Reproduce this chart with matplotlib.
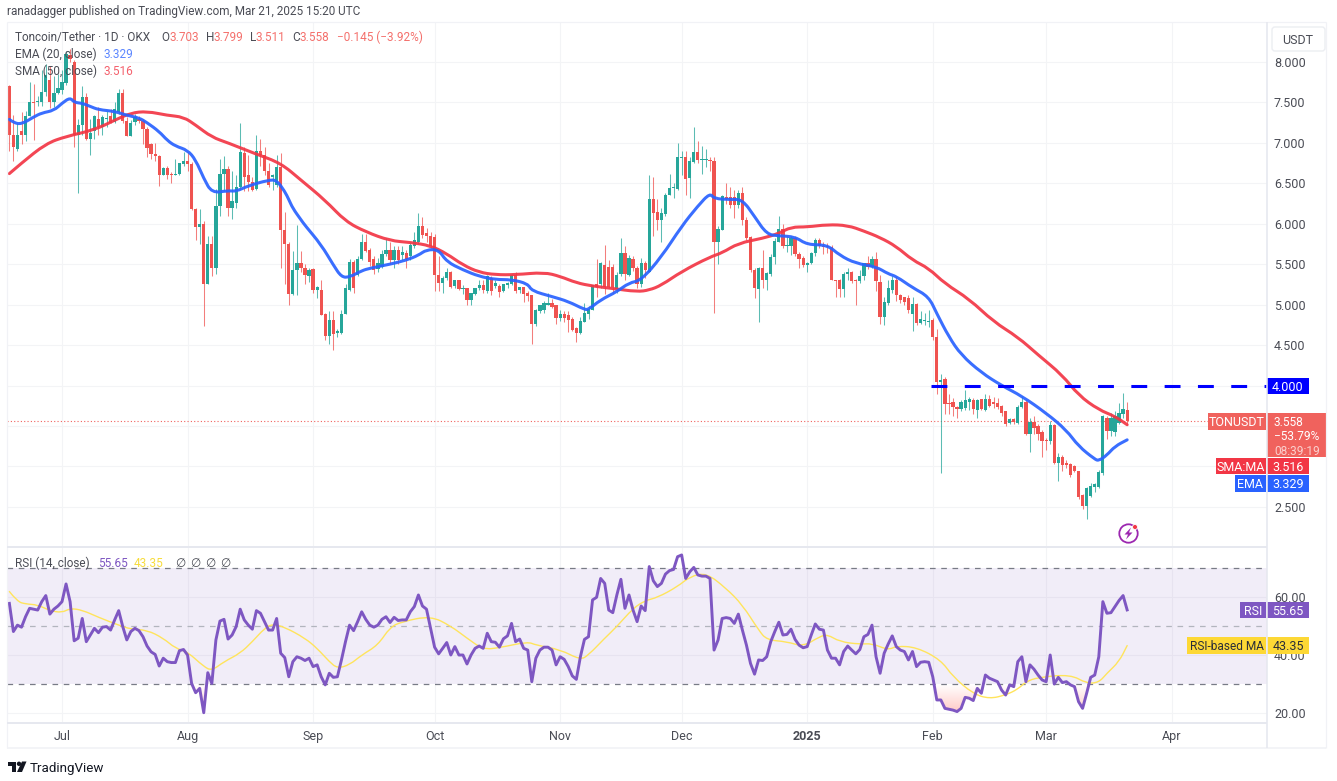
import numpy as np
import matplotlib
matplotlib.use("Agg")
import matplotlib.pyplot as plt
from matplotlib.patches import Rectangle, FancyBboxPatch, Circle, Polygon, PathPatch
from matplotlib.path import Path

W, H = 1337, 781

# daily candles, oldest first
opens = [7.70,7.10,6.93,7.15,7.10,7.33,7.51,7.50,7.50,7.63,7.78,7.50,7.62,7.65,7.74,8.08,8.00,7.10,7.22,7.57,
 7.05,7.15,7.30,7.20,7.30,7.33,7.26,7.38,7.62,7.27,7.08,7.26,7.30,7.27,7.17,6.98,6.86,6.84,6.60,6.69,
 6.62,6.60,6.62,6.74,6.77,6.74,6.18,5.96,6.00,5.26,5.75,5.45,6.22,6.62,6.68,6.20,6.26,6.45,6.88,6.60,
 6.52,6.43,6.90,6.85,6.65,6.58,6.48,6.70,5.92,5.75,5.13,5.43,5.52,5.45,5.35,5.44,5.18,5.18,4.88,4.61,
 4.81,4.65,4.65,4.89,5.18,5.53,5.37,5.57,5.78,5.67,5.56,5.44,5.47,5.63,5.68,5.55,5.67,5.62,5.64,5.60,
 5.72,5.78,5.97,5.89,5.85,5.84,5.37,5.27,5.33,5.41,5.23,5.30,5.19,5.20,5.06,5.13,5.20,5.24,5.17,5.33,
 5.23,5.23,5.17,5.24,5.25,5.37,5.18,5.22,5.14,5.12,4.76,4.92,4.94,5.00,5.02,4.99,4.84,4.89,4.87,4.82,
 4.71,4.65,4.79,4.89,4.93,5.26,5.26,5.49,5.47,5.47,5.19,5.38,5.64,5.37,5.57,5.45,5.26,5.51,5.41,6.31,
 6.15,6.05,6.12,6.36,6.44,6.43,6.81,6.83,6.56,6.76,6.89,6.79,6.79,6.79,6.78,5.77,5.92,6.33,6.33,6.33,
 6.23,6.38,6.05,5.84,5.43,5.19,5.45,5.31,5.38,5.59,5.78,5.94,5.73,5.72,5.83,5.63,5.58,5.49,5.51,5.64,
 5.80,5.73,5.73,5.71,5.30,5.30,5.19,5.38,5.40,5.31,5.29,5.36,5.51,5.47,5.57,5.28,4.85,5.02,5.18,5.30,
 5.12,5.09,5.08,4.89,5.01,4.77,4.80,4.79,4.81,4.60,4.04,4.08,3.78,3.80,3.74,3.71,3.72,3.80,3.82,3.70,
 3.83,3.70,3.84,3.80,3.78,3.75,3.68,3.54,3.59,3.54,3.74,3.80,3.40,3.55,3.50,3.43,3.33,3.31,3.51,3.04,
 3.12,3.04,3.03,3.00,2.95,2.65,2.51,2.63,2.75,2.75,2.92,3.60,3.44,3.43,3.54,3.65,3.703]
highs = [7.72,7.35,7.25,7.38,7.40,7.75,7.73,7.58,7.90,7.98,7.95,7.83,7.85,7.90,8.14,8.16,8.02,7.30,7.70,7.62,
 7.30,7.35,7.44,7.35,7.40,7.42,7.50,7.66,7.66,7.32,7.28,7.36,7.33,7.30,7.20,7.00,7.00,6.85,6.70,6.72,
 6.64,6.80,6.75,6.89,6.89,6.76,6.20,6.18,6.03,5.85,5.85,6.43,6.80,6.84,6.72,6.65,6.60,7.25,6.95,6.85,
 6.58,7.10,7.05,6.95,6.75,6.62,6.85,6.87,6.15,5.78,5.66,5.98,5.66,5.50,5.45,5.45,5.23,5.30,4.90,4.92,
 4.92,4.70,4.94,5.25,5.57,5.55,5.60,5.87,5.87,5.70,5.60,5.58,5.67,5.82,5.78,5.72,5.72,5.72,5.67,5.78,
 5.90,6.13,6.08,5.95,5.90,5.87,5.60,5.35,5.45,5.42,5.31,5.30,5.24,5.20,5.14,5.21,5.31,5.30,5.37,5.35,
 5.30,5.25,5.26,5.28,5.38,5.40,5.22,5.22,5.17,5.12,4.95,5.00,5.05,5.14,5.07,5.00,4.93,4.92,4.92,4.85,
 4.72,4.85,5.02,4.98,5.24,5.57,5.53,5.74,5.55,5.50,5.40,5.83,5.72,5.62,5.60,5.48,5.58,5.54,6.60,6.58,
 6.30,6.20,6.38,6.62,6.50,7.00,6.90,6.90,6.83,7.20,7.02,6.96,6.93,6.83,6.82,5.97,6.35,6.50,6.45,6.42,
 6.42,6.46,6.08,5.85,5.45,5.46,5.67,5.40,5.63,5.82,6.09,6.00,5.85,5.85,5.85,5.65,5.60,5.53,5.65,5.83,
 5.83,5.78,5.76,5.74,5.30,5.32,5.40,5.45,5.42,5.32,5.43,5.52,5.60,5.60,5.65,5.37,5.10,5.30,5.35,5.35,
 5.13,5.10,5.12,5.10,5.02,4.92,4.90,4.94,4.83,4.70,4.14,4.10,3.90,3.85,3.75,3.82,3.95,3.86,3.85,3.84,
 3.84,3.90,3.88,3.86,3.85,3.76,3.69,3.60,3.60,3.76,3.87,3.82,3.60,3.62,3.52,3.45,3.35,3.56,3.52,3.17,
 3.14,3.08,3.04,3.02,2.95,2.66,2.75,2.80,2.80,2.96,3.64,3.63,3.66,3.68,3.79,3.91,3.799]
lows = [6.90,6.78,6.90,6.98,7.02,7.33,7.03,7.45,7.45,7.58,7.43,7.44,7.60,7.60,7.72,8.00,6.95,6.38,7.10,7.04,
 6.85,7.05,7.10,7.10,7.20,7.24,7.25,7.36,7.25,7.08,7.08,7.22,7.24,6.98,6.82,6.80,6.78,6.47,6.60,6.55,
 6.50,6.60,6.60,6.72,6.65,6.17,5.80,5.75,4.74,5.26,5.35,5.38,6.10,6.40,6.10,6.06,6.20,6.43,6.40,6.40,
 6.40,6.42,6.72,6.60,6.45,6.42,6.45,5.45,5.25,5.00,5.12,5.12,5.40,5.25,5.28,5.15,5.08,4.87,4.56,4.52,
 4.44,4.60,4.64,4.88,5.17,5.15,5.35,5.55,5.65,5.48,5.38,5.40,5.45,5.60,5.50,5.45,5.50,5.55,5.45,5.55,
 5.70,5.75,5.82,5.78,5.70,5.17,5.17,5.14,5.30,5.20,5.20,5.18,5.13,5.00,5.00,5.12,5.18,5.15,5.15,5.12,
 5.20,5.10,5.16,5.20,5.24,5.15,5.15,5.03,5.05,4.52,4.74,4.90,4.90,5.00,4.96,4.76,4.80,4.78,4.66,4.68,
 4.54,4.64,4.78,4.82,4.93,5.10,5.20,5.13,5.20,5.15,5.15,5.36,5.30,5.35,5.42,5.20,5.22,5.33,5.40,5.85,
 5.92,5.78,6.10,6.35,6.32,6.42,6.60,6.35,6.32,6.75,6.75,6.62,6.70,6.65,4.90,5.50,5.92,6.25,6.20,6.07,
 6.20,5.98,5.80,5.40,5.08,4.78,5.20,5.18,5.36,5.50,5.77,5.70,5.65,5.62,5.60,5.45,5.47,5.40,5.50,5.60,
 5.70,5.63,5.64,5.30,5.10,5.09,5.10,5.30,5.27,5.00,5.27,5.30,5.44,5.45,5.17,4.76,4.75,5.00,5.15,5.05,
 5.02,5.00,4.90,4.67,4.75,4.76,4.75,4.72,4.56,3.89,2.92,3.65,3.65,3.62,3.60,3.68,3.70,3.70,3.65,3.60,
 3.70,3.69,3.73,3.72,3.71,3.62,3.50,3.53,3.53,3.53,3.72,3.39,3.18,3.40,3.33,3.12,3.20,3.28,3.03,2.82,
 2.95,2.98,2.87,2.93,2.60,2.48,2.35,2.62,2.68,2.74,2.90,3.34,3.38,3.38,3.53,3.60,3.511]
closes = [7.10,6.95,7.10,7.10,7.33,7.51,7.49,7.50,7.63,7.84,7.50,7.62,7.68,7.75,8.10,8.04,7.10,7.22,7.57,7.05,
 7.12,7.33,7.20,7.32,7.30,7.25,7.42,7.62,7.27,7.08,7.25,7.32,7.27,7.17,6.94,6.86,6.84,6.60,6.69,6.60,
 6.60,6.62,6.75,6.77,6.74,6.18,5.96,6.00,5.26,5.75,5.45,6.22,6.62,6.68,6.20,6.28,6.45,6.89,6.58,6.52,
 6.42,6.90,6.85,6.65,6.48,6.60,6.70,5.92,5.75,5.13,5.43,5.52,5.45,5.37,5.43,5.18,5.22,4.87,4.61,4.81,
 4.64,4.67,4.89,5.21,5.53,5.21,5.57,5.78,5.66,5.53,5.43,5.52,5.63,5.68,5.55,5.68,5.55,5.65,5.57,5.74,
 5.80,5.97,5.86,5.85,5.72,5.37,5.27,5.33,5.41,5.22,5.30,5.19,5.20,5.06,5.14,5.20,5.24,5.18,5.35,5.17,
 5.27,5.16,5.25,5.27,5.37,5.17,5.22,5.13,5.11,4.76,4.93,5.00,5.02,5.02,4.97,4.83,4.89,4.83,4.81,4.69,
 4.65,4.80,4.90,4.95,5.24,5.22,5.51,5.22,5.22,5.22,5.37,5.64,5.38,5.58,5.45,5.26,5.51,5.43,6.31,6.13,
 6.05,6.13,6.36,6.44,6.46,6.82,6.83,6.55,6.77,6.89,6.79,6.80,6.80,6.77,5.77,5.93,6.34,6.31,6.23,6.23,
 6.38,6.05,5.82,5.43,5.20,5.45,5.31,5.39,5.59,5.79,5.94,5.72,5.74,5.83,5.63,5.56,5.49,5.52,5.64,5.80,
 5.72,5.71,5.71,5.30,5.29,5.19,5.38,5.40,5.29,5.29,5.36,5.51,5.47,5.57,5.29,4.85,5.03,5.21,5.30,5.12,
 5.06,5.03,4.93,5.01,4.77,4.82,4.81,4.80,4.60,4.04,4.07,3.77,3.77,3.73,3.71,3.80,3.82,3.84,3.71,3.82,
 3.71,3.84,3.75,3.77,3.74,3.66,3.53,3.59,3.55,3.74,3.80,3.40,3.55,3.48,3.40,3.32,3.32,3.51,3.04,3.12,
 3.02,3.02,2.90,2.95,2.62,2.51,2.73,2.76,2.78,2.93,3.62,3.44,3.60,3.62,3.66,3.71,3.558]

ema_bars = [0,1,3,6,8,11,13,15,16,18,20,22,26,29,32,34,37,39,41,44,46,48,50,54,56,59,64,66,68,69,70,72,73,77,80,82,84,87,89,94,98,101,103,106,
 108,112,116,120,124,128,129,134,138,142,143,146,150,153,156,161,166,170,173,174,178,181,184,187,190,194,197,202,205,209,214,217,219,223,227,229,232,235,240,245,250,256,261,264,268,269,271,273,276]
ema_20 = [7.29,7.25,7.23,7.32,7.37,7.40,7.49,7.56,7.50,7.49,7.45,7.41,7.39,7.34,7.31,7.25,7.14,7.03,6.96,6.91,6.79,6.56,6.38,6.41,6.40,6.47,6.54,6.54,6.40,6.30,6.19,6.05,5.98,5.74,5.49,5.34,5.34,5.42,5.45,5.50,5.55,5.61,5.68,5.68,
 5.53,5.43,5.35,5.31,5.31,5.26,5.17,5.10,5.04,4.94,4.94,5.06,5.16,5.27,5.30,5.59,5.97,6.22,6.38,6.31,6.30,6.30,6.09,5.87,5.85,5.84,5.74,5.74,5.61,5.51,5.47,5.38,5.35,5.21,5.10,4.89,4.60,4.38,4.16,4.00,3.87,3.66,3.45,3.25,3.09,3.07,3.14,3.25,3.329]

sma_bars = [0,3,9,14,21,26,30,34,39,43,46,50,54,61,67,72,78,83,88,94,99,104,108,112,116,120,125,132,136,140,144,149,155,158,161,166,173,176,180,186,190,193,197,202,207,211,215,219,223,227,231,237,243,249,254,260,264,269,273,276]
sma_50 = [6.62,6.75,6.99,7.08,7.16,7.28,7.37,7.39,7.34,7.32,7.22,7.07,7.00,6.86,6.75,6.54,6.29,6.03,5.90,5.79,5.77,5.73,5.63,5.49,5.40,5.37,5.37,5.40,5.35,5.27,5.23,5.20,5.16,5.18,5.24,5.41,5.59,5.64,5.76,5.82,5.88,5.96,5.96,5.99,5.98,5.91,5.83,5.72,5.55,5.45,5.26,5.07,4.79,4.60,4.38,4.13,3.88,3.70,3.62,3.516]

rsi_14 = [57.9,48.2,50.4,49.7,53.3,56.2,55.9,55.6,58.5,60.6,54.2,55.9,57.0,58.5,64.6,58.5,45.0,45.9,52.7,44.7,
 47.0,49.3,47.8,49.7,49.9,48.7,52.2,55.4,49.9,45.3,48.2,49.3,48.5,46.4,43.2,41.2,40.3,36.3,39.0,37.8,
 37.5,37.5,41.6,42.0,40.1,30.3,27.1,28.6,20.2,34.0,30.3,45.3,51.8,52.4,45.6,47.0,49.9,55.9,52.2,50.4,
 49.0,55.4,54.5,51.6,48.7,48.7,52.7,40.7,39.2,32.6,37.8,39.5,39.0,38.2,39.0,36.1,36.7,32.6,29.8,33.8,
 32.4,32.6,38.4,44.7,50.4,48.5,51.6,55.0,52.4,50.4,49.7,50.4,52.4,53.3,51.3,53.1,52.0,52.2,52.2,55.0,
 56.8,60.8,57.0,55.9,49.3,42.8,40.5,42.4,44.4,40.1,43.0,40.1,40.1,37.0,40.1,42.4,43.2,42.4,47.6,44.7,
 44.5,42.8,45.7,46.7,51.0,44.7,45.6,42.4,41.8,30.9,39.0,41.8,42.8,42.8,41.8,36.7,39.5,38.6,36.1,32.9,
 31.7,39.5,45.5,46.4,59.1,60.0,66.5,64.8,55.6,54.7,60.8,66.2,56.2,60.8,55.6,51.6,57.0,55.4,70.6,65.7,
 63.7,64.8,68.0,69.2,69.6,74.0,74.6,66.5,68.8,70.3,67.7,67.3,67.3,66.5,41.8,45.3,52.7,53.0,52.7,51.0,
 54.2,48.7,43.5,37.2,33.5,38.4,38.2,39.5,44.7,48.2,51.4,47.0,47.2,49.0,45.5,43.5,42.6,43.0,47.0,50.8,
 49.0,48.7,41.8,39.0,39.0,36.7,41.3,43.2,41.8,40.5,42.0,46.4,47.2,50.4,39.5,33.8,40.7,43.9,46.7,43.0,
 41.8,41.3,38.4,41.3,36.1,37.6,37.8,37.6,32.6,24.6,24.6,21.7,21.4,21.1,20.6,21.7,25.5,25.2,24.4,28.6,
 26.9,33.2,32.1,31.5,30.9,28.0,26.3,29.8,29.2,37.8,39.5,30.9,36.7,35.2,33.2,31.5,30.9,40.1,30.1,32.4,
 30.6,30.9,29.8,29.2,24.0,21.7,26.9,32.4,33.2,39.5,58.5,54.5,54.7,56.8,58.9,60.6,55.65]

rsi_ma_bars = [0,2,4,7,10,13,15,18,22,27,30,34,38,41,44,48,50,53,57,60,63,65,68,73,76,79,81,84,87,91,94,97,104,109,113,117,121,128,130,136,141,143,147,150,154,157,160,
 165,168,172,177,181,185,187,192,196,200,202,205,210,213,217,219,224,230,233,238,242,246,249,251,254,262,266,269,271,274,276]
rsi_ma = [62.0,58.5,57.7,57.4,55.4,54.7,56.2,55.6,53.1,50.4,49.0,48.7,45.9,42.4,41.2,36.1,34.7,37.8,40.7,44.7,49.3,50.8,49.7,45.9,42.4,37.8,35.5,36.7,40.1,43.5,49.7,51.6,53.6,50.1,45.9,42.0,42.6,44.7,43.5,42.0,38.4,40.1,45.9,49.9,56.2,58.9,59.9,
 63.7,67.1,68.5,63.1,57.4,48.7,45.3,44.7,43.0,46.4,47.2,44.7,43.8,44.1,41.8,43.2,42.8,38.4,32.6,26.7,25.0,26.3,28.3,30.9,32.4,33.4,30.3,30.6,33.8,37.8,43.35]

month_bars = [13, 44, 75, 105, 136, 166, 197, 228, 256, 287]
month_labels = ["Jul", "Aug", "Sep", "Oct", "Nov", "Dec", "2025", "Feb", "Mar", "Apr"]
price_ticks = [2.5, 3.0, 3.5, 4.0, 4.5, 5.0, 5.5, 6.0, 6.5, 7.0, 7.5, 8.0]
price_ticks_under_tags = [3.0, 3.5, 4.0]  # the value tags sit on these, no label shows
rsi_ticks = [20, 40, 60]
resistance = 4.0
last_close = 3.558
last_ema = 3.329
last_sma = 3.516
last_rsi = 55.65
last_rsi_ma = 43.35

GREEN = "#26a69a"
RED = "#ef5350"
BLUE = "#2962ff"
MA_RED = "#f23645"
PURPLE = "#7e57c2"
YELLOW = "#fdd835"
GRID = "#f3f4f6"
FRAME = "#e6e8ef"
TEXT = "#4a4c55"
BAR_OFFSET = 9.35   # pixel x of first bar
BAR_STEP = 4.05     # pixels per bar

plt.rcParams["font.family"] = ["Roboto", "DejaVu Sans"]
fig = plt.figure(figsize=(W / 100, H / 100), dpi=100, facecolor="white")


def pane(left, top, right, bottom):
    return fig.add_axes([left / W, 1 - bottom / H, (right - left) / W, (bottom - top) / H])


def bar_limits(left, right):
    return (left - BAR_OFFSET) / BAR_STEP, (right - BAR_OFFSET) / BAR_STEP


def smooth_line(axis, xs, ys, color, lw, zorder, alpha=1.0):
    # quadratic curve through the midpoints, so the read-off points don't show as corners
    pts = np.column_stack([xs, ys])
    verts = [pts[0]]
    codes = [Path.MOVETO]
    for i in range(1, len(pts) - 1):
        verts += [pts[i], (pts[i] + pts[i + 1]) / 2]
        codes += [Path.CURVE3, Path.CURVE3]
    verts.append(pts[-1])
    codes.append(Path.LINETO)
    axis.add_patch(PathPatch(Path(verts, codes), fc="none", ec=color, lw=lw, alpha=alpha, capstyle="round",
                             joinstyle="round", zorder=zorder))


bars = np.arange(len(closes))
o, h, l, c = map(np.array, (opens, highs, lows, closes))
up = c >= o
colors = np.where(up, GREEN, RED)

# price pane
ax = pane(7, 22, 1267, 546)
ax.set_xlim(*bar_limits(7, 1267))
ax.set_ylim(2.017, 8.494)
ax.vlines(bars, l, h, colors=colors, lw=0.75, alpha=0.75, zorder=3)
ax.bar(bars, np.maximum(np.abs(c - o), 0.012), bottom=np.minimum(o, c), width=0.8, color=colors, linewidth=0, zorder=4)
smooth_line(ax, sma_bars, sma_50, MA_RED, 2.2, 5, alpha=0.92)
smooth_line(ax, ema_bars, ema_20, BLUE, 2.2, 6, alpha=0.92)
ax.plot([227.5, 311], [resistance, resistance], color="#0000ff", lw=2.2, dashes=(5.2, 5.7), dash_capstyle="butt", zorder=7)
ax.axhline(last_close, color="#f0625d", lw=0.8, ls=(0, (1, 2)), zorder=2)
ax.set_yticks(price_ticks, ["" if t in price_ticks_under_tags else f"{t:.3f}" for t in price_ticks])
ax.set_xticks(month_bars)
ax.tick_params(axis="x", length=0, labelbottom=False)

# rsi pane
ax_rsi = pane(7, 548, 1267, 722)
ax_rsi.set_xlim(*bar_limits(7, 1267))
ax_rsi.set_ylim(17.0, 77.0)
ax_rsi.axhspan(30, 70, color=PURPLE, alpha=0.1, lw=0, zorder=1)
ax_rsi.axhline(70, color="#787b86", lw=0.9, dashes=(4.5, 4.5), zorder=2)
ax_rsi.axhline(50, color="#b2b5be", lw=0.9, dashes=(4.5, 4.5), zorder=2)
ax_rsi.axhline(30, color="#787b86", lw=0.9, dashes=(4.5, 4.5), zorder=2)

rsi = np.array(rsi_14)
zone = ax_rsi.fill_between(bars, rsi, 30, where=rsi < 30, interpolate=True, color="none")
gradient = np.linspace(0, 1, 64).reshape(-1, 1)
cmap = matplotlib.colors.LinearSegmentedColormap.from_list("oversold", ["#ffffff", "#ffc9c5"])
im = ax_rsi.imshow(gradient, extent=(bars[0], bars[-1], 20, 30), origin="upper", aspect="auto", cmap=cmap, zorder=1.5)
clip = PathPatch(Path.make_compound_path(*zone.get_paths()), transform=ax_rsi.transData, fc="none", ec="none")
ax_rsi.add_patch(clip)
im.set_clip_path(clip)
ax_rsi.set_xlim(*bar_limits(7, 1267))
ax_rsi.set_ylim(17.0, 77.0)

smooth_line(ax_rsi, rsi_ma_bars, rsi_ma, "#ffe45c", 1.0, 3)
ax_rsi.plot(bars, rsi, color=PURPLE, lw=2.1, solid_joinstyle="round", zorder=4)
ax_rsi.set_yticks(rsi_ticks, [f"{t:.2f}" for t in rsi_ticks])
ax_rsi.set_xticks(month_bars, month_labels)
for lab in ax_rsi.get_xticklabels():
    if lab.get_text() == "2025":
        lab.set_fontweight("bold")

for a in (ax, ax_rsi):
    a.set_facecolor("none")
    a.grid(True, color=GRID, lw=0.8, zorder=0)
    a.set_axisbelow(True)
    a.yaxis.tick_right()
    a.tick_params(axis="y", length=0, pad=5, labelsize=9, labelcolor=TEXT)
    a.tick_params(axis="x", length=0, pad=5.5, labelsize=9, labelcolor=TEXT)
    for s in a.spines.values():
        s.set_visible(False)

# page furniture in pixel coordinates
ov = fig.add_axes([0, 0, 1, 1], facecolor="none", zorder=10)
ov.set_xlim(0, W)
ov.set_ylim(H, 0)
ov.axis("off")


def px_line(x0, y0, x1, y1, lw=1.0, color=FRAME):
    ov.plot([x0, x1], [y0, y1], color=color, lw=lw * 0.72, solid_capstyle="butt")


def box(x0, y0, x1, y1, color, text="", tc="white", size=9, ha="center", alpha=1.0):
    ov.add_patch(Rectangle((x0, y0), x1 - x0, y1 - y0, fc=color, ec="none", alpha=alpha))
    if text:
        ov.text((x0 + x1) / 2 if ha == "center" else x0 + 7, (y0 + y1) / 2, text, color=tc, fontsize=size,
                ha=ha, va="center_baseline")


OUTER = "#f1f2f6"
px_line(7, 22, 1326, 22, 1.2, OUTER)
px_line(7, 22, 7, 748, 1.2, OUTER)
px_line(7, 748, 1326, 748, 1.6, OUTER)
px_line(1326, 22, 1326, 748, 1.2, OUTER)
px_line(1267, 22, 1267, 748, 1.6)
px_line(7, 547, 1267, 547, 2.0)
px_line(7, 723, 1267, 723, 2.0)

ov.add_patch(FancyBboxPatch((1272, 27), 53, 24, boxstyle="round,pad=0,rounding_size=3", fc="white", ec="#eceef2", lw=1))
ov.text(1298, 39, "USDT", color=TEXT, fontsize=9, ha="center", va="center_baseline")

ov.text(7, 9.5, "ranadagger published on TradingView.com, Mar 21, 2025 15:20 UTC", color=TEXT, fontsize=8.5, va="center_baseline")


def legend_row(y, parts, size=8.5):
    for x, txt, col in parts:
        ov.text(x, y, txt, color=col, fontsize=size, va="center_baseline")


PALE_RED = "#f4706c"
legend_row(36, [(15, "Toncoin/Tether · 1D · OKX", TEXT), (161, "O", TEXT), (169, "3.703", PALE_RED), (206, "H", TEXT),
                (214, "3.799", PALE_RED), (250, "L", TEXT), (256, "3.511", PALE_RED), (292, "C", TEXT),
                (300, "3.558", PALE_RED), (337, "−0.145 (−3.92%)", PALE_RED)])
legend_row(53, [(15, "EMA (20, close)", TEXT), (103, "3.329", "#5b86ff")])
legend_row(70, [(15, "SMA (50, close)", TEXT), (103, "3.516", "#f4606c")])
legend_row(562, [(15, "RSI (14, close)", TEXT), (98, "55.65", PURPLE), (134, "43.35", "#f7dc3c"), (175, "∅", TEXT),
                 (190, "∅", TEXT), (205, "∅", TEXT), (220, "∅", TEXT)])

# last value tags on the right axis
box(1267, 378, 1309, 394, "#0000ff", f"{resistance:.3f}", size=9)
box(1208, 413, 1266, 430, "#f0625d", "TONUSDT", size=9)
box(1267, 413, 1326, 457, "#f0625d")
ov.text(1274, 421, f"{last_close:.3f}", color="white", fontsize=8.6, va="center_baseline")
ov.text(1274, 435.5, "−53.79%", color="white", fontsize=8.6, va="center_baseline")
ov.text(1274, 450, "08:39:19", color="#fbd0ce", fontsize=8.6, va="center_baseline")
box(1216, 458, 1266, 474, MA_RED, "SMA:MA", size=9)
box(1267, 458, 1309, 474, MA_RED, f"{last_sma:.3f}", size=9)
box(1235, 475, 1266, 492, BLUE, "EMA", size=9)
box(1267, 475, 1309, 492, BLUE, f"{last_ema:.3f}", size=9)
box(1240, 602, 1266, 618, PURPLE, "RSI", size=9)
box(1267, 602, 1309, 618, PURPLE, f"{last_rsi:.2f}", size=9)
box(1187, 637, 1266, 654, YELLOW, "RSI-based MA", tc="#2a2e39", size=8.6)
box(1267, 637, 1309, 654, YELLOW, f"{last_rsi_ma:.2f}", tc="#2a2e39", size=9)

# flash icon
ov.add_patch(Circle((1128.5, 533.5), 9.2, fc="white", ec="#9c27b0", lw=1.3))
ov.add_patch(Polygon([(1131, 527.5), (1124.5, 534.5), (1128, 534.5), (1126, 539.5), (1132.5, 532.5), (1129, 532.5)], fc="#9c27b0", ec="none"))
ov.add_patch(Circle((1135, 527), 2.5, fc="#f23645", ec="white", lw=0.6))

# TradingView logo
ov.add_patch(Polygon([(7.5, 761.5), (16, 761.5), (16, 772), (11.5, 772), (11.5, 766), (7.5, 766)], fc="#131722", ec="none"))
ov.add_patch(Circle((19, 763.8), 2.2, fc="#131722", ec="none"))
ov.add_patch(Polygon([(22, 761.5), (26.5, 761.5), (22, 772), (17, 772)], fc="#131722", ec="none"))
ov.text(30, 767, "TradingView", color="#131722", fontsize=9.6, va="center_baseline")

fig.savefig("out.png", dpi=100, facecolor="white")
